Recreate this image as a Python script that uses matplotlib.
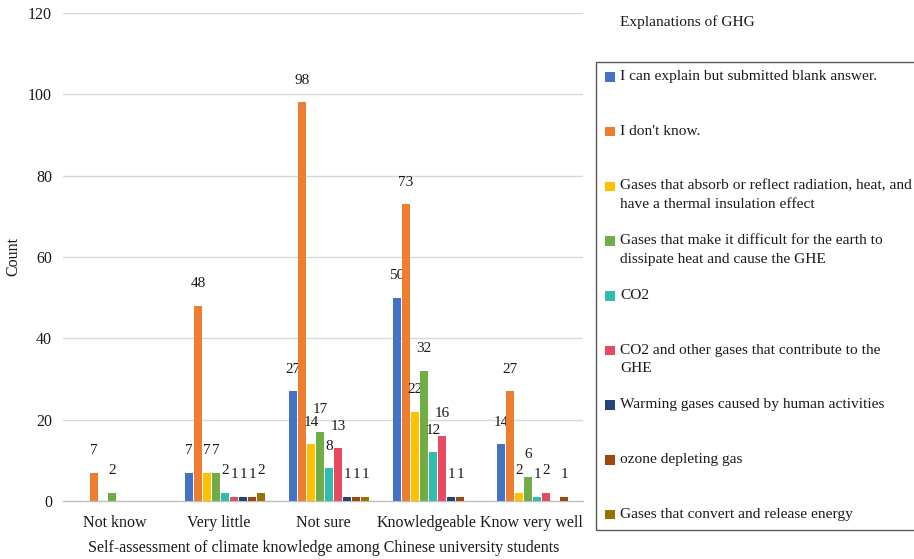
import numpy as np
import matplotlib
matplotlib.use("Agg")
import matplotlib.pyplot as plt
from matplotlib.patches import Rectangle

plt.rcParams['font.family'] = ['Liberation Serif', 'DejaVu Serif']

categories = ["Not know", "Very little", "Not sure", "Knowledgeable", "Know very well"]

series_names = [
    "I can explain but submitted blank answer.",
    "I don't know.",
    "Gases that absorb or reflect radiation, heat, and\nhave a thermal insulation effect",
    "Gases that make it difficult for the earth to\ndissipate heat and cause the GHE",
    "CO2",
    "CO2 and other gases that contribute to the\nGHE",
    "Warming gases caused by human activities",
    "ozone depleting gas",
    "Gases that convert and release energy",
]

# counts per category for each explanation
blank_answer = [0, 7, 27, 50, 14]
dont_know = [7, 48, 98, 73, 27]
absorb_reflect = [0, 7, 14, 22, 2]
hard_to_dissipate = [2, 7, 17, 32, 6]
co2 = [0, 2, 8, 12, 1]
co2_and_others = [0, 1, 13, 16, 2]
human_warming = [0, 1, 1, 1, 0]
ozone_depleting = [0, 1, 1, 1, 1]
convert_release = [0, 2, 1, 0, 0]

series_values = [blank_answer, dont_know, absorb_reflect, hard_to_dissipate, co2,
                 co2_and_others, human_warming, ozone_depleting, convert_release]

colors = ["#4472C4", "#ED7D31", "#FFC000", "#70AD47", "#2EBDB0",
          "#E84A5F", "#264478", "#9E480E", "#997300"]

y_ticks = [0, 20, 40, 60, 80, 100, 120]

W, H = 914, 559
fig = plt.figure(figsize=(W / 100, H / 100), dpi=100)

TXT = "#1a1a1a"
AXFS = 11.5
LEGFS = 11.1
NUMFS = 11


def fx(px):
    return px / W


def fy(py):
    return 1 - py / H


ax = fig.add_axes([fx(63), fy(501), (583 - 63) / W, (501 - 13) / H])

x = np.arange(len(categories))
pitch = 0.087
width = 0.077
shift = 0.06
for i, (vals, col) in enumerate(zip(series_values, colors)):
    pos = x + (i - 4) * pitch + shift
    bars = ax.bar(pos, vals, width=width, color=col, zorder=3)
    for b, v in zip(bars, vals):
        if v > 0:
            ax.annotate(str(v), (b.get_x() + b.get_width() / 2, v),
                        xytext=(0, 15.8), textcoords="offset points",
                        ha="center", va="center", fontsize=NUMFS, color=TXT)

ax.set_xlim(-0.5, len(categories) - 0.5)
ax.set_ylim(0, 120)
ax.set_yticks(y_ticks)
ax.set_xticks(x)
ax.set_xticklabels(categories, fontsize=AXFS)
ax.tick_params(axis="both", length=0, labelsize=AXFS, colors=TXT)
ax.tick_params(axis="y", pad=8)
ax.tick_params(axis="x", pad=10)
ax.grid(axis="y", color="#D9D9D9", linewidth=1, zorder=0)
for s in ["top", "right", "left"]:
    ax.spines[s].set_visible(False)
ax.spines["bottom"].set_color("#BFBFBF")
ax.spines["bottom"].set_linewidth(1)

fig.text(fx(13), fy(257), "Count", rotation=90, ha="center", va="center",
         fontsize=AXFS, color=TXT)
fig.text(fx(324), fy(548), "Self-assessment of climate knowledge among Chinese university students",
         ha="center", va="center", fontsize=AXFS, color=TXT)

# legend block
fig.text(fx(620), fy(22), "Explanations of GHG", ha="left", va="center",
         fontsize=LEGFS, color=TXT)
fig.patches.append(Rectangle((fx(596), fy(530)), fx(330), (530 - 62) / H,
                             transform=fig.transFigure, fill=False,
                             edgecolor="#595959", linewidth=1, clip_on=False))
entry_y0, entry_step, line_step = 76.7, 54.7, 18.3
for i, (name, col) in enumerate(zip(series_names, colors)):
    yc = entry_y0 + i * entry_step
    fig.patches.append(Rectangle((fx(605), fy(yc + 5)), 9.5 / W, 9.5 / H,
                                 transform=fig.transFigure, facecolor=col,
                                 edgecolor="none"))
    for j, line in enumerate(name.split("\n")):
        fig.text(fx(620), fy(yc + j * line_step), line, ha="left", va="center",
                 fontsize=LEGFS, color=TXT)

fig.savefig("out.png", dpi=100)
